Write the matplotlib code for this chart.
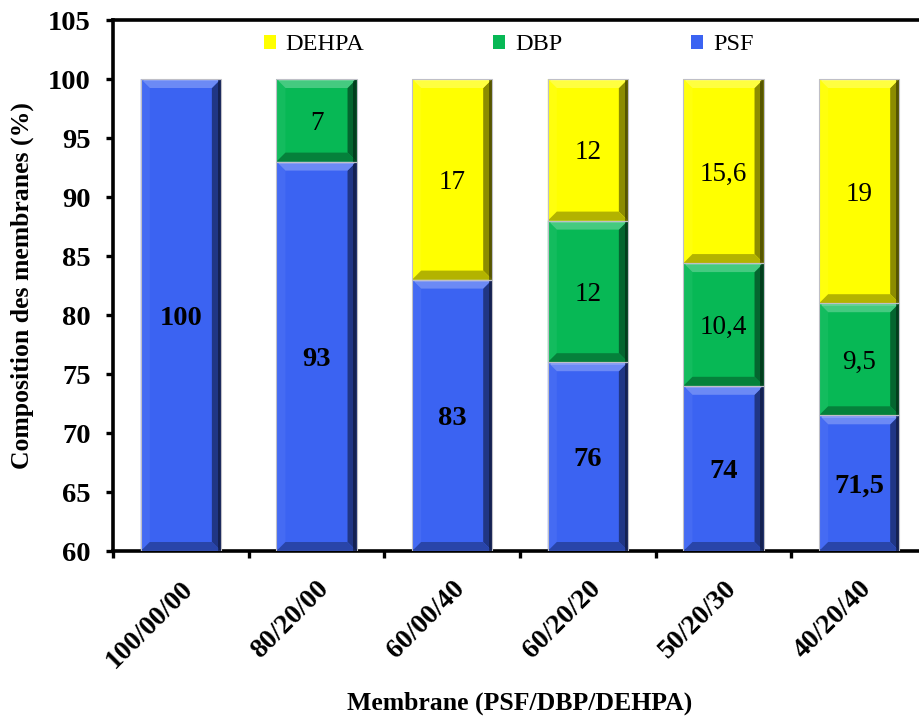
import matplotlib
matplotlib.use("Agg")
import matplotlib.pyplot as plt
from matplotlib.patches import Polygon, Rectangle
from matplotlib.legend_handler import HandlerPatch
import numpy as np

plt.rcParams['font.family'] = ['Liberation Serif', 'DejaVu Serif']

# Membrane compositions (PSF/DBP/DEHPA, %)
membranes = ["100/00/00", "80/20/00", "60/00/40", "60/20/20", "50/20/30", "40/20/40"]
psf = [100, 93, 83, 76, 74, 71.5]
dbp = [0, 7, 0, 12, 10.4, 9.5]
dehpa = [0, 0, 17, 12, 15.6, 19]

series = [("PSF", psf, "#3b63f2", True),
          ("DBP", dbp, "#07b855", False),
          ("DEHPA", dehpa, "#ffff00", False)]

YMIN, YMAX = 60, 105
W_PX, H_PX = 919, 717
AX_L, AX_B, AX_R, AX_T = 113, 551, 927, 20

fig = plt.figure(figsize=(W_PX / 100, H_PX / 100), dpi=100)
ax = fig.add_axes([AX_L / W_PX, 1 - AX_B / H_PX, (AX_R - AX_L) / W_PX, (AX_B - AX_T) / H_PX])

n = len(membranes)
x = np.arange(n)
bar_w = 0.59
ax.set_xlim(-0.5, n - 0.5)
ax.set_ylim(YMIN, YMAX)

# data units per pixel, used for the bevel widths
ux = n / (AX_R - AX_L)
uy = (YMAX - YMIN) / (AX_B - AX_T)


def shade(color, f):
    c = np.array(matplotlib.colors.to_rgb(color))
    if f >= 0:
        return tuple(c + (1 - c) * f)
    return tuple(c * (1 + f))


def bevel(ax, x0, x1, y0, y1, color):
    """Draw an Excel-like bevel on top of a bar segment."""
    b = 9
    bx, by = b * ux, b * uy
    bx = min(bx, (x1 - x0) / 2)
    by = min(by, (y1 - y0) / 2)
    top = [(x0, y1), (x1, y1), (x1 - bx, y1 - by), (x0 + bx, y1 - by)]
    bot = [(x0, y0), (x1, y0), (x1 - bx, y0 + by), (x0 + bx, y0 + by)]
    left = [(x0, y0), (x0, y1), (x0 + bx, y1 - by), (x0 + bx, y0 + by)]
    right = [(x1, y0), (x1, y1), (x1 - bx, y1 - by), (x1 - bx, y0 + by)]
    for pts, f in ((left, 0.05), (right, -0.45), (bot, -0.3), (top, 0.25)):
        ax.add_patch(Polygon(pts, closed=True, facecolor=shade(color, f),
                             edgecolor='none', zorder=3))
    # thin right-edge shadow
    ax.add_patch(Polygon([(x1 - bx * 0.35, y0), (x1, y0), (x1, y1), (x1 - bx * 0.35, y1)],
                         closed=True, facecolor=shade(color, -0.8), edgecolor='none',
                         zorder=3, alpha=0.6))
    # bright rim along the top edge
    ax.plot([x0 + bx * 0.3, x1 - bx * 0.3], [y1 - by * 0.15] * 2,
            color=shade(color, 0.4), lw=1.2, zorder=3.5, solid_capstyle='butt')
    ax.add_patch(Rectangle((x0, y0), x1 - x0, y1 - y0, facecolor='none',
                           edgecolor=(0.75, 0.75, 0.78), lw=0.8, zorder=4))


bottoms = np.zeros(n)
for name, vals, color, bold in series:
    vals = np.array(vals, dtype=float)
    bars = ax.bar(x, vals, bar_w, bottom=bottoms, color=color, zorder=2, label=name)
    for i, (v, b0) in enumerate(zip(vals, bottoms)):
        if v <= 0:
            continue
        y0 = max(b0, YMIN)
        y1 = b0 + v
        bevel(ax, x[i] - bar_w / 2, x[i] + bar_w / 2, y0, y1, color)
        txt = f"{v:g}".replace('.', ',')
        ax.text(x[i], (y0 + y1) / 2, txt, ha='center', va='center_baseline',
                fontsize=20.5 if bold else 19.5,
                fontweight='bold' if bold else 'normal',
                color='black', zorder=5)
    bottoms = bottoms + vals

# axes styling
for side in ('left', 'bottom', 'top'):
    ax.spines[side].set_linewidth(2.6)
ax.spines['right'].set_visible(False)

ax.set_yticks(np.arange(60, 106, 5))
ax.tick_params(axis='y', direction='out', length=5, width=2.4, labelsize=20.5, pad=11)
for lab in ax.get_yticklabels():
    lab.set_fontweight('bold')

ax.set_xticks(np.arange(-0.5, n, 1.0))
ax.set_xticklabels([])
ax.tick_params(axis='x', which='major', direction='out', length=5, width=2.4)
ax.set_xticks(x, minor=True)
ax.set_xticklabels(membranes, minor=True, rotation=45, ha='right',
                   rotation_mode='anchor', fontsize=20, fontweight='bold')
ax.tick_params(axis='x', which='minor', length=0, pad=18)

ax.set_ylabel("Composition des membranes (%)", fontsize=18.5, fontweight='bold')
ax.yaxis.set_label_coords((34 - AX_L) / (AX_R - AX_L), 0.5)
fig.text((AX_L + AX_R) / 2 / W_PX, 1 - 703 / H_PX, "Membrane (PSF/DBP/DEHPA)",
         ha='center', va='center', fontsize=18.5, fontweight='bold')


class BevelHandler(HandlerPatch):
    def create_artists(self, legend, orig_handle, xdescent, ydescent, width, height,
                       fontsize, trans):
        s = min(width, height)
        x0 = -xdescent + (width - s) / 2
        y0 = -ydescent + (height - s) / 2
        c = orig_handle.get_facecolor()
        arts = [Rectangle((x0, y0), s, s, facecolor=c, edgecolor='none', transform=trans)]
        b = s * 0.3
        pts = [((x0, y0 + s), (x0 + s, y0 + s), (x0 + s - b, y0 + s - b), (x0 + b, y0 + s - b), 0.3),
               ((x0 + s, y0), (x0 + s, y0 + s), (x0 + s - b, y0 + s - b), (x0 + s - b, y0 + b), -0.55),
               ((x0, y0), (x0 + s, y0), (x0 + s - b, y0 + b), (x0 + b, y0 + b), -0.4)]
        for *p, f in pts:
            arts.append(Polygon(p, closed=True, facecolor=shade(c[:3], f),
                                edgecolor='none', transform=trans))
        return arts


handles, labels = ax.get_legend_handles_labels()
order = [2, 1, 0]
leg = ax.legend([handles[i] for i in order], [labels[i] for i in order],
                loc='center left', bbox_to_anchor=(0.185, 0.953), ncol=3,
                frameon=False, fontsize=17.5, handlelength=0.5, handleheight=0.5,
                handletextpad=0.4, columnspacing=5.3, borderpad=0, borderaxespad=0,
                handler_map={matplotlib.patches.Rectangle: BevelHandler()})

fig.savefig("out.png", dpi=100, facecolor='white')
